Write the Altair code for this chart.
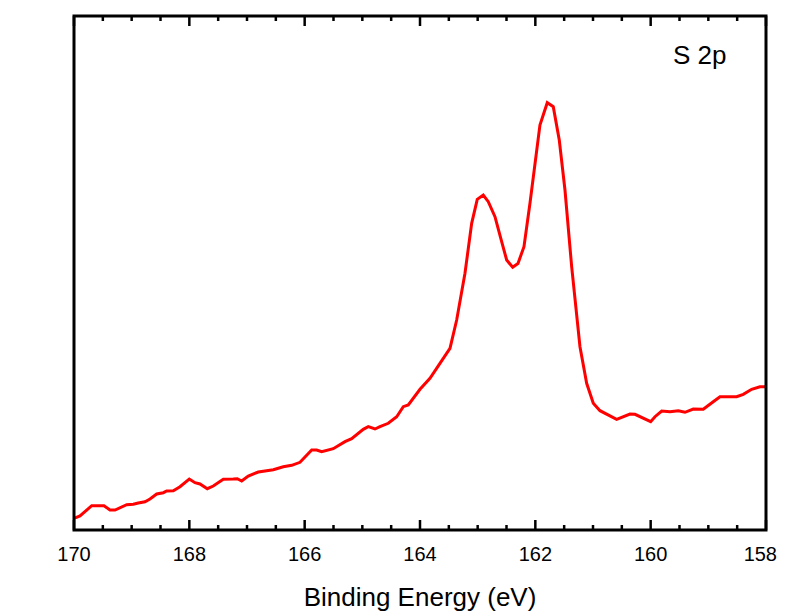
import altair as alt
import pandas as pd

# Binding energy (eV) and photoemission intensity (arb. units)
energy = [170.00, 169.896, 169.693, 169.48, 169.376, 169.289, 169.086, 168.972, 168.885, 168.769,
          168.682, 168.566, 168.451, 168.393, 168.278, 168.162, 168.001, 167.902, 167.815, 167.689,
          167.585, 167.411, 167.238, 167.168, 167.092, 166.978, 166.804, 166.659, 166.544, 166.371,
          166.225, 166.081, 165.878, 165.792, 165.705, 165.504, 165.301, 165.185, 164.984, 164.897,
          164.781, 164.694, 164.55, 164.404, 164.29, 164.203, 164.0, 163.827, 163.654, 163.48,
          163.364, 163.22, 163.104, 163.007, 162.903, 162.816, 162.7, 162.584, 162.497, 162.393,
          162.301, 162.197, 162.093, 161.92, 161.793, 161.689, 161.585, 161.486, 161.37, 161.226,
          161.11, 160.995, 160.879, 160.59, 160.359, 160.272, 160.0, 159.925, 159.809, 159.665,
          159.521, 159.405, 159.261, 159.088, 158.915, 158.798, 158.509, 158.394, 158.249, 158.105,
          158.0]
intensity = [11.7, 14, 24.3, 24.3, 20, 20, 25.3, 25.7, 27, 28.3,
             31, 36, 37.3, 39, 39.3, 43.3, 51, 47.3, 46, 41.3,
             44, 50.7, 51, 51.3, 49, 54, 58, 59.3, 60.3, 63.3,
             64.7, 67.7, 80, 80, 78.3, 81.3, 88.3, 91.3, 100.7, 103.3,
             101, 103.3, 106.7, 113.3, 123.3, 125, 140.7, 151.7, 166.7, 181.7,
             210, 256.7, 306.7, 330.7, 335, 328.3, 313.3, 288.3, 270, 262.7,
             266.5, 283.3, 326.7, 405, 427.3, 423.3, 390, 340, 263.3, 183.3,
             146.7, 126.7, 119.3, 110.7, 116, 115.7, 108.3, 113.3, 119, 118.3,
             119.3, 117.7, 121, 120.7, 128.3, 133.3, 133.3, 135.7, 140.7, 143.3,
             143.3]

major_ticks = [170, 168, 166, 164, 162, 160, 158]
minor_ticks = [169.5, 169, 168.5, 167.5, 167, 166.5, 165.5, 165, 164.5,
               163.5, 163, 162.5, 161.5, 161, 160.5, 159.5, 159, 158.5]
label_text = ["S 2p"]
x_title = ["Binding Energy (eV)"]

W, H = 692, 514
YMAX = 514  # y domain top (1 unit = 1 px)
FONT = "Liberation Sans"

df = pd.DataFrame({"energy": energy, "intensity": intensity})
df_major = pd.DataFrame({"e": major_ticks})
df_minor = pd.DataFrame({"e": minor_ticks})
df_label = pd.DataFrame({"t": label_text})
df_xtitle = pd.DataFrame({"t": x_title})

xscale = alt.Scale(domain=[158, 170], reverse=True, nice=False, zero=False)
yscale = alt.Scale(domain=[0, YMAX], nice=False, zero=False)

line = alt.Chart(df).mark_line(color="#ff0000", strokeWidth=3).encode(
    x=alt.X("energy:Q", scale=xscale, axis=None),
    y=alt.Y("intensity:Q", scale=yscale,
            axis=alt.Axis(title="Photoemission intensity", labels=False, ticks=False,
                          tickSize=0, domain=False, grid=False,
                          titleFont=FONT, titleFontSize=27, titleFontWeight="normal",
                          titleColor="black", titleBaseline="alphabetic",
                          titleX=-43, titleY=275, titleAlign="center", titleAngle=270)),
)


def tick_rules(data, y0, y1):
    return alt.Chart(data).transform_calculate(
        ya=str(y0), yb=str(y1)
    ).mark_rule(color="black", strokeWidth=2.5, opacity=1).encode(
        x=alt.X("e:Q", scale=xscale, axis=None),
        y=alt.Y("ya:Q", scale=yscale, axis=None),
        y2="yb:Q",
    )


major_bottom = tick_rules(df_major, 0, 10)
major_top = tick_rules(df_major, YMAX - 10, YMAX)
minor_bottom = tick_rules(df_minor, 0, 5)
minor_top = tick_rules(df_minor, YMAX - 5, YMAX)

frame = alt.Chart(df_label).mark_rect(fillOpacity=0, stroke="black", strokeWidth=3).encode(
    x=alt.value(0), x2=alt.value(W), y=alt.value(0), y2=alt.value(H))

tick_x = alt.X("e:Q", scale=xscale, axis=None)

# x tick labels (the last one is right-aligned so it stays inside the page)
tick_labels = alt.Chart(df_major).transform_filter(alt.datum.e != 158).mark_text(
    font=FONT, fontSize=20, color="black", align="center", baseline="alphabetic").encode(
    x=tick_x, y=alt.value(H + 31), text=alt.Text("e:Q", format="d"))
last_label = alt.Chart(df_major).transform_filter(alt.datum.e == 158).mark_text(
    font=FONT, fontSize=20, color="black", align="right", baseline="alphabetic", dx=11).encode(
    x=tick_x, y=alt.value(H + 31), text=alt.Text("e:Q", format="d"))

xtitle = alt.Chart(df_xtitle).mark_text(font=FONT, fontSize=26, color="black",
                                        align="center", baseline="alphabetic").encode(
    x=alt.value(W / 2), y=alt.value(H + 76), text="t:N")

label = alt.Chart(df_label).mark_text(font=FONT, fontSize=26, color="black",
                                      align="left", baseline="alphabetic").encode(
    x=alt.value(599), y=alt.value(48), text="t:N")

chart = alt.layer(line, major_bottom, major_top, minor_bottom, minor_top, frame,
                  tick_labels, last_label, xtitle, label).properties(
    width=W, height=H,
    autosize=alt.AutoSizeParams(type="none"),
    padding={"left": 66, "top": 8, "right": 11, "bottom": 83},
).configure(background="white")

chart.save("out.html", embed_options={"renderer": "svg", "actions": False})
